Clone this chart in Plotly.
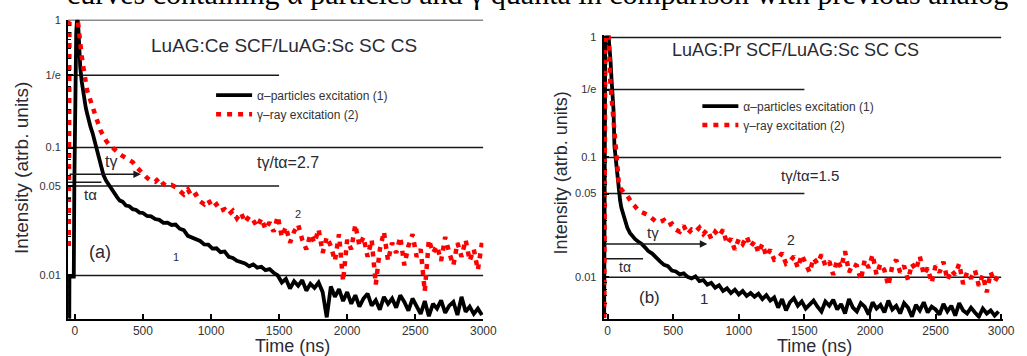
import math
import plotly.graph_objects as go

W, H = 1027, 356

# ---------------- data ----------------
a_time = [-45, -41, -40, -8, -4, 0, 5, 10, 15, 20,
          25, 30, 40, 50, 60, 70, 80, 90, 100, 115,
          130, 145, 160, 175, 190, 210, 230, 250, 270, 290,
          310, 330, 350, 375, 400, 425, 450, 475, 500, 530,
          560, 590, 620, 650, 680, 710, 740, 770, 800, 830,
          860, 890, 920, 950, 980, 1010, 1040, 1070, 1100, 1130,
          1160, 1190, 1220, 1250, 1280, 1310, 1340, 1370, 1400, 1430,
          1460, 1490, 1520, 1550, 1580, 1610, 1640, 1670, 1700, 1730,
          1760, 1790, 1820, 1850, 1880, 1910, 1940, 1970, 2000, 2030,
          2060, 2090, 2120, 2150, 2180, 2210, 2240, 2270, 2300, 2330,
          2360, 2390, 2420, 2450, 2480, 2510, 2540, 2570, 2600, 2630,
          2660, 2690, 2720, 2750, 2780, 2810, 2840, 2870, 2900, 2930,
          2960, 2990]
a_alpha = [0.0046, 0.0046, 0.0098, 0.0098, 0.05, 0.2, 0.5, 0.8, 0.97, 1.0,
           0.88, 0.62, 0.42, 0.33, 0.27, 0.235, 0.205, 0.185, 0.165, 0.145,
           0.13, 0.112, 0.097, 0.083, 0.072, 0.061, 0.055, 0.051, 0.047, 0.043,
           0.041, 0.0385, 0.0378, 0.0352, 0.0348, 0.0330, 0.0325, 0.0310, 0.0308, 0.0292,
           0.0290, 0.0276, 0.0272, 0.0258, 0.0259, 0.0248, 0.0250, 0.0232, 0.0226, 0.0204,
           0.0198, 0.0190, 0.0186, 0.0175, 0.0174, 0.0162, 0.0163, 0.0152, 0.0154, 0.0140,
           0.0137, 0.0130, 0.0127, 0.0124, 0.0118, 0.0122, 0.0115, 0.0117, 0.0110, 0.0112,
           0.0105, 0.0100, 0.0088, 0.0094, 0.0079, 0.0090, 0.0083, 0.0092, 0.0076, 0.0086,
           0.0080, 0.0088, 0.0074, 0.0047, 0.0082, 0.0068, 0.0078, 0.0063, 0.0074, 0.0060,
           0.0070, 0.0057, 0.0066, 0.0072, 0.0058, 0.0064, 0.0054, 0.0068, 0.0060, 0.0066,
           0.0056, 0.0070, 0.0062, 0.0053, 0.0066, 0.0058, 0.0050, 0.0063, 0.0048, 0.0060,
           0.0055, 0.0064, 0.0051, 0.0058, 0.0062, 0.0049, 0.0068, 0.0052, 0.0057, 0.0050,
           0.0055, 0.0049]
a_gamma = [0.017, 0.3, 0.95, 1.05, 1.08, 1.1, 1.1, 1.08, 1.05, 1.0,
           0.92, 0.8, 0.63, 0.52, 0.44, 0.37, 0.32, 0.28, 0.26, 0.23,
           0.205, 0.185, 0.165, 0.15, 0.135, 0.122, 0.113, 0.106, 0.101, 0.097,
           0.093, 0.089, 0.086, 0.083, 0.080, 0.077, 0.071, 0.066, 0.062, 0.058,
           0.055, 0.054, 0.058, 0.052, 0.050, 0.051, 0.049, 0.046, 0.043, 0.047,
           0.041, 0.043, 0.038, 0.036, 0.039, 0.034, 0.036, 0.032, 0.033, 0.030,
           0.032, 0.028, 0.031, 0.026, 0.029, 0.027, 0.024, 0.028, 0.023, 0.026,
           0.022, 0.029, 0.020, 0.024, 0.018, 0.022, 0.025, 0.019, 0.016, 0.021,
           0.018, 0.023, 0.015, 0.020, 0.017, 0.013, 0.021, 0.009, 0.019, 0.016,
           0.025, 0.017, 0.020, 0.014, 0.019, 0.0085, 0.016, 0.022, 0.013, 0.018,
           0.015, 0.020, 0.012, 0.017, 0.021, 0.014, 0.016, 0.0075, 0.019, 0.015,
           0.017, 0.013, 0.020, 0.015, 0.012, 0.018, 0.014, 0.019, 0.013, 0.016,
           0.011, 0.018]

b_time = [-26, -22, -18, -10, 0, 8, 15, 22, 30, 38,
          45, 52, 60, 67, 75, 85, 95, 105, 120, 135,
          150, 170, 190, 210, 235, 260, 285, 310, 340, 370,
          400, 430, 460, 490, 520, 550, 580, 610, 640, 670,
          700, 730, 760, 790, 820, 850, 880, 910, 940, 970,
          1000, 1030, 1060, 1090, 1120, 1150, 1180, 1210, 1240, 1270,
          1300, 1330, 1360, 1390, 1420, 1450, 1480, 1510, 1540, 1570,
          1600, 1630, 1660, 1690, 1720, 1750, 1780, 1810, 1840, 1870,
          1900, 1930, 1960, 1990, 2020, 2050, 2080, 2110, 2140, 2170,
          2200, 2230, 2260, 2290, 2320, 2350, 2380, 2410, 2440, 2470,
          2500, 2530, 2560, 2590, 2620, 2650, 2680, 2710, 2740, 2770,
          2800, 2830, 2860, 2890, 2920, 2950, 2980]
b_alpha = [0.0046, 0.25, 0.85, 1.05, 1.1, 1.0, 0.85, 0.65, 0.45, 0.35,
           0.25, 0.125, 0.1, 0.09, 0.066, 0.052, 0.044, 0.038, 0.033, 0.029,
           0.026, 0.0235, 0.022, 0.0208, 0.0198, 0.019, 0.0178, 0.0166, 0.0158, 0.0145,
           0.0136, 0.0127, 0.0124, 0.0114, 0.0112, 0.0106, 0.0108, 0.0101, 0.0098, 0.0102,
           0.0093, 0.0095, 0.0087, 0.0090, 0.0082, 0.0086, 0.0077, 0.0081, 0.0074, 0.0079,
           0.0072, 0.0077, 0.0070, 0.0074, 0.0069, 0.0073, 0.0066, 0.0071, 0.0064, 0.0068,
           0.0056, 0.0066, 0.0053, 0.0062, 0.0067, 0.0058, 0.0063, 0.0055, 0.0060, 0.0064,
           0.0057, 0.0052, 0.0063, 0.0058, 0.0065, 0.0054, 0.0060, 0.0050, 0.0066, 0.0056,
           0.0052, 0.0061, 0.0057, 0.0049, 0.0062, 0.0055, 0.0059, 0.0051, 0.0064, 0.0054,
           0.0058, 0.0050, 0.0061, 0.0056, 0.0047, 0.0059, 0.0053, 0.0062, 0.0051, 0.0057,
           0.0054, 0.0049, 0.0060, 0.0052, 0.0058, 0.0048, 0.0061, 0.0053, 0.0050, 0.0056,
           0.0051, 0.0047, 0.0055, 0.0050, 0.0053, 0.0048, 0.0052]
b_gamma = [0.0046, 0.2, 0.8, 1.1, 1.2, 1.05, 0.5, 0.4, 0.32, 0.25,
           0.2, 0.15, 0.12, 0.095, 0.075, 0.062, 0.056, 0.054, 0.051, 0.049,
           0.048, 0.044, 0.041, 0.039, 0.036, 0.035, 0.034, 0.033, 0.031, 0.029,
           0.029, 0.030, 0.027, 0.028, 0.025, 0.024, 0.027, 0.023, 0.025, 0.024,
           0.026, 0.023, 0.025, 0.021, 0.024, 0.022, 0.025, 0.019, 0.021, 0.017,
           0.021, 0.019, 0.022, 0.018, 0.020, 0.016, 0.019, 0.015, 0.017, 0.014,
           0.0143, 0.016, 0.013, 0.0136, 0.015, 0.012, 0.0154, 0.013, 0.011, 0.0145,
           0.013, 0.0155, 0.0125, 0.0136, 0.0105, 0.014, 0.012, 0.0165, 0.011, 0.013,
           0.0125, 0.0095, 0.014, 0.012, 0.0155, 0.0105, 0.013, 0.0115, 0.0085, 0.0125,
           0.014, 0.011, 0.0125, 0.0095, 0.013, 0.0115, 0.015, 0.0105, 0.012, 0.009,
           0.0125, 0.011, 0.0135, 0.0095, 0.0115, 0.0105, 0.013, 0.0088, 0.011, 0.0098,
           0.0115, 0.0085, 0.0105, 0.0075, 0.011, 0.0092, 0.0105]

# reference levels and where each horizontal guide stops (ns)
ref_levels = [1.0, 1 / math.e, 0.1, 0.05, 0.01]
ref_ends = [3000, 1500, 3000, 1500, 3000]

# decay-time markers: (level, end time)
a_t_gamma = (0.062, 485)
a_t_alpha = (0.0535, 195)
b_t_gamma = (0.019, 760)
b_t_alpha = (0.0143, 270)

ytick_vals = [0.01, 0.05, 0.1, 1 / math.e, 1.0]
ytick_text = ["0.01", "0.05", "0.1", "1/e", "1"]
yminor_vals = [0.005, 0.006, 0.007, 0.008, 0.009, 0.02, 0.03, 0.04, 0.06, 0.07,
               0.08, 0.09, 0.2, 0.3, 0.4, 0.5, 0.6, 0.7, 0.8, 0.9]
xtick_vals = [0, 500, 1000, 1500, 2000, 2500, 3000]

series_names = ["α–particles excitation (1)", "γ–ray excitation (2)"]
titles = ["LuAG:Ce SCF/LuAG:Sc SC CS", "LuAG:Pr SCF/LuAG:Sc SC CS"]
ratios = ["tγ/tα=2.7", "tγ/tα=1.5"]
panel_tags = ["(a)", "(b)"]
y_title = "Intensity (atrb. units)"
x_title = "Time (ns)"
top_text = "curves containing α particles and γ quanta in comparison with previous analog"

# ---------------- layout helpers ----------------
def px_x(p):
    return p / W

def px_y(p):
    return 1 - p / H

SANS = "Liberation Sans, Arial, sans-serif"
INK = "#2a2a33"

fig = go.Figure()

panels = [
    dict(xa="x", ya="y", t=a_time, al=a_alpha, ga=a_gamma, leg="legend",
         xmin=-50, tg=a_t_gamma, ta=a_t_alpha),
    dict(xa="x2", ya="y2", t=b_time, al=b_alpha, ga=b_gamma, leg="legend2",
         xmin=-30, tg=b_t_gamma, ta=b_t_alpha),
]

annotations = []
for p in panels:
    for lev, end in zip(ref_levels, ref_ends):
        fig.add_trace(go.Scatter(x=[p["xmin"], end], y=[lev, lev], mode="lines",
                                 line=dict(color="#1a1a1a", width=1.5),
                                 xaxis=p["xa"], yaxis=p["ya"], showlegend=False,
                                 hoverinfo="skip"))
    fig.add_trace(go.Scatter(x=[p["xmin"], p["ta"][1]], y=[p["ta"][0], p["ta"][0]],
                             mode="lines", line=dict(color="#1a1a1a", width=1.5),
                             xaxis=p["xa"], yaxis=p["ya"], showlegend=False,
                             hoverinfo="skip"))
    annotations.append(dict(x=p["tg"][1], y=math.log10(p["tg"][0]),
                            ax=p["xmin"], ay=math.log10(p["tg"][0]),
                            xref=p["xa"], yref=p["ya"], axref=p["xa"], ayref=p["ya"],
                            text="", showarrow=True, arrowhead=2, arrowsize=1,
                            arrowwidth=1.5, arrowcolor="#1a1a1a"))
    fig.add_trace(go.Scatter(x=p["t"], y=p["al"], mode="lines", name=series_names[0],
                             line=dict(color="black", width=3.8),
                             xaxis=p["xa"], yaxis=p["ya"], legend=p["leg"]))
    fig.add_trace(go.Scatter(x=p["t"], y=p["ga"], mode="lines", name=series_names[1],
                             line=dict(color="#ff0000", width=4.5, dash="5px,6px"),
                             xaxis=p["xa"], yaxis=p["ya"], legend=p["leg"]))

def txt(text, x, y, size, angle=0, family=SANS, color=INK, xanchor="center"):
    annotations.append(dict(text=text, x=px_x(x), y=px_y(y), xref="paper", yref="paper",
                            showarrow=False, textangle=angle, xanchor=xanchor,
                            yanchor="middle", font=dict(size=size, family=family,
                                                        color=color)))

# panel (a) texts
txt(titles[0], 288, 40, 19)
txt(ratios[0], 292, 159, 16)
txt("tγ", 113, 158, 16)
txt("tα", 92, 192, 15)
txt(panel_tags[0], 101, 250, 18)
txt("1", 178, 255, 11)
txt("2", 302, 212, 11)
txt(y_title, 22, 165, 19, angle=-90)
txt(x_title, 297, 346, 18)
# panel (b) texts
txt(titles[1], 807, 45, 18)
txt(ratios[1], 821, 172, 15)
txt("tγ", 662, 230, 15)
txt("tα", 634, 265, 14)
txt(panel_tags[1], 658, 297, 17)
txt("1", 714, 298, 15)
txt("2", 802, 238, 14)
txt(y_title, 569, 170, 18, angle=-90)
txt(x_title, 826, 346, 18)
# partial line of body text at the very top (only its lower part is in view)
annotations.append(dict(text=top_text, x=px_x(1024), y=px_y(6), xref="paper",
                        yref="paper", showarrow=False, xanchor="right", yanchor="bottom",
                        font=dict(size=30, family="Liberation Serif, Times New Roman, serif",
                                  color="black")))

def xaxis_cfg(domain, rng, anchor):
    return dict(domain=domain, range=rng, anchor=anchor, showgrid=False, zeroline=False,
                showline=True, linecolor="black", linewidth=2, ticks="inside",
                ticklen=5, tickwidth=1.5, tickcolor="black", tickvals=xtick_vals,
                tickfont=dict(size=12, family=SANS, color="#333"))

def yaxis_cfg(domain, rng, anchor):
    return dict(domain=domain, range=rng, type="log", anchor=anchor, showgrid=False,
                zeroline=False, showline=True, linecolor="black", linewidth=2,
                ticks="inside", ticklen=5, tickwidth=1.5, tickcolor="black",
                tickmode="array", tickvals=ytick_vals, ticktext=ytick_text,
                ticklabelstandoff=3,
                tickfont=dict(size=11, family=SANS, color="#333"),
                minor=dict(tickmode="array", tickvals=yminor_vals, ticks="inside",
                           ticklen=3, tickcolor="black", tickwidth=1))

legend_common = dict(bgcolor="rgba(0,0,0,0)", borderwidth=0, xanchor="left",
                     yanchor="top", font=dict(size=12, family=SANS, color="#333"),
                     tracegroupgap=0, itemwidth=36)

fig.update_layout(
    width=W, height=H, autosize=False,
    margin=dict(l=0, r=0, t=0, b=0),
    paper_bgcolor="white", plot_bgcolor="white",
    xaxis=xaxis_cfg([px_x(69), px_x(490)], [-50, 3000], "y"),
    yaxis=yaxis_cfg([px_y(318), px_y(14)], [-2.338, 0.0], "x"),
    xaxis2=xaxis_cfg([px_x(612), px_x(1017)], [-30, 3015], "y2"),
    yaxis2=yaxis_cfg([px_y(318), px_y(30)], [-2.344, 0.0164], "x2"),
    legend=dict(x=px_x(214), y=px_y(76), **legend_common),
    legend2=dict(x=px_x(707), y=px_y(87), **legend_common),
    annotations=annotations,
    showlegend=True,
)

fig.write_html("out.html",
               config={"displayModeBar": False},
               post_script="document.body.style.margin='0';"
                           "document.body.style.overflow='hidden';")
